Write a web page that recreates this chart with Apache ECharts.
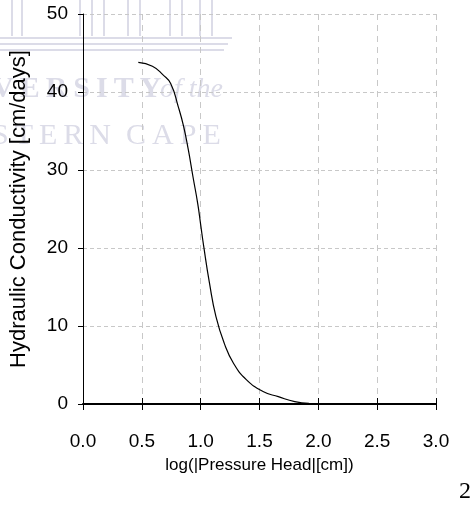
<!DOCTYPE html>
<html>
<head>
<meta charset="utf-8">
<script src="https://cdn.jsdelivr.net/npm/echarts@6/dist/echarts.min.js"></script>
<style>
html,body{margin:0;padding:0;background:#fff;}
#c{width:474px;height:509px;}
</style>
</head>
<body>
<div id="c"></div>
<script>
// Data
const logHead = [0.47, 0.59, 0.68, 0.745, 0.81, 0.855, 0.895, 0.935, 0.975, 1.0, 1.025, 1.075, 1.13, 1.2, 1.28, 1.39, 1.53, 1.66, 1.8, 1.92];
const conductivity = [43.8, 43.3, 42.2, 41.1, 38.1, 35.6, 32.6, 29.1, 25.7, 23.0, 20.3, 15.5, 11.2, 7.8, 5.2, 3.1, 1.6, 0.94, 0.3, 0.08];
const xTicks = [0.0, 0.5, 1.0, 1.5, 2.0, 2.5, 3.0];
const yTicks = [0, 10, 20, 30, 40, 50];
const xTitle = 'log(|Pressure Head|[cm])';
const yTitle = 'Hydraulic Conductivity [cm/days]';
const pageNumber = '2';

const sans = '"Liberation Sans", Arial, sans-serif';
const wm = '#dcdce8';
const ts = '\u2009';

const chart = echarts.init(document.getElementById('c'), null, {renderer: 'canvas'});

const wmGraphics = [];
// faint watermark (building and university name)
[38, 44, 50].forEach(function (y, i) {
  wmGraphics.push({type: 'line', z: -10, silent: true,
    shape: {x1: 0, y1: y, x2: 232 - i * 4, y2: y}, style: {stroke: wm, lineWidth: 2}});
});
[12, 22, 80, 92, 104, 128, 140, 170, 182, 200, 212].forEach(function (x) {
  wmGraphics.push({type: 'line', z: -10, silent: true,
    shape: {x1: x, y1: 0, x2: x, y2: 36}, style: {stroke: wm, lineWidth: 2}});
});
wmGraphics.push({type: 'text', z: -10, silent: true, left: -8, top: 74,
  style: {text: ['V','E','R','S','I','T','Y'].join(ts), font: 'bold 30px "Liberation Serif", serif', fill: wm}});
wmGraphics.push({type: 'text', z: -10, silent: true, left: 160, top: 76,
  style: {text: 'of the', font: 'italic 28px "Liberation Serif", serif', fill: wm}});
wmGraphics.push({type: 'text', z: -10, silent: true, left: -8, top: 121,
  style: {text: ['S','T','E','R','N'].join(ts) + '  ' + ['C','A','P','E'].join(ts), font: '30px "Liberation Serif", serif', fill: wm}});
wmGraphics.push({type: 'text', right: 3, top: 480,
  style: {text: pageNumber, font: '24px "Liberation Serif", serif', fill: '#000'}});

const xMin = xTicks[0], xMax = xTicks[xTicks.length - 1], xStep = xTicks[1] - xTicks[0];
const yMin = yTicks[0], yMax = yTicks[yTicks.length - 1], yStep = yTicks[1] - yTicks[0];

chart.setOption({
  animation: false,
  backgroundColor: '#fff',
  graphic: wmGraphics,
  grid: {left: 71, right: 38, top: 14, bottom: 105, containLabel: false},
  xAxis: [{
    type: 'value', min: xMin, max: xMax, interval: xStep, position: 'bottom',
    name: xTitle, nameLocation: 'middle', nameGap: 53,
    nameTextStyle: {fontFamily: sans, fontSize: 17, color: '#000'},
    axisLine: {show: true, onZero: false, lineStyle: {color: '#000', width: 2}},
    axisTick: {show: true, length: 6, lineStyle: {color: '#000', width: 1}},
    axisLabel: {margin: 28, fontFamily: sans, fontSize: 19, color: '#000',
      formatter: function (v) { return v.toFixed(1); }},
    splitLine: {show: true, lineStyle: {color: '#c8c8c8', type: [6, 5], width: 1}}
  }, {
    type: 'value', min: xMin, max: xMax, interval: xStep, position: 'bottom',
    axisLine: {show: false},
    axisTick: {show: true, inside: true, length: 6, lineStyle: {color: '#000', width: 1}},
    axisLabel: {show: false},
    splitLine: {show: false}
  }],
  yAxis: {
    type: 'value', min: yMin, max: yMax, interval: yStep,
    name: yTitle, nameLocation: 'middle', nameGap: 53, nameRotate: 90,
    nameTextStyle: {fontFamily: sans, fontSize: 22, color: '#000'},
    axisLine: {show: true, onZero: false, lineStyle: {color: '#000', width: 1}},
    axisTick: {show: true, length: 5, lineStyle: {color: '#000', width: 1}},
    axisLabel: {margin: 15, fontFamily: sans, fontSize: 19, color: '#000'},
    splitLine: {show: true, lineStyle: {color: '#c8c8c8', type: [4, 3], width: 1}}
  },
  series: [{
    type: 'line', xAxisIndex: 0, yAxisIndex: 0, z: 5,
    data: logHead.map(function (x, i) { return [x, conductivity[i]]; }),
    smooth: 0.5, showSymbol: false, symbol: 'none',
    lineStyle: {color: '#000', width: 1.2}
  }]
});
</script>
</body>
</html>
